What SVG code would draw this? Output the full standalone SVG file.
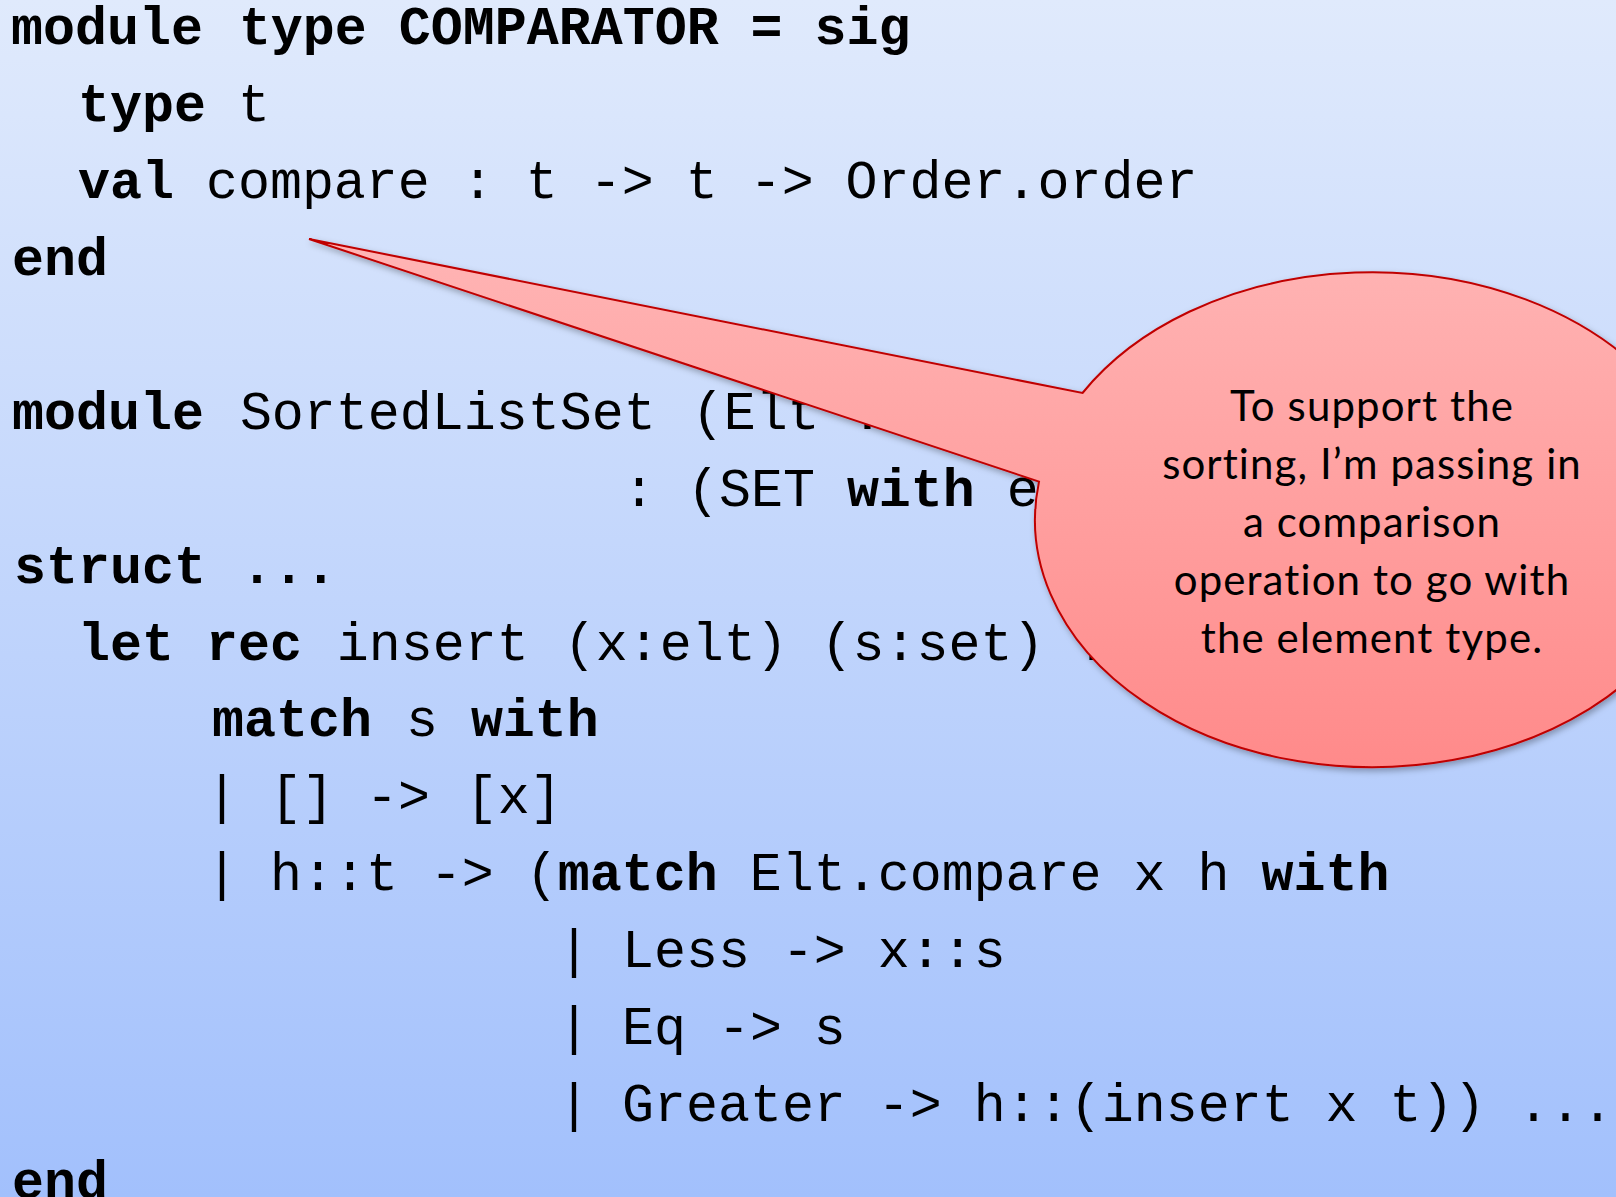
<svg xmlns="http://www.w3.org/2000/svg" width="1616" height="1197" viewBox="0 0 1616 1197">
<defs>
<linearGradient id="bg" x1="0" y1="0" x2="0" y2="1">
<stop offset="0" stop-color="#e0eafc"/>
<stop offset="1" stop-color="#a2c0fc"/>
</linearGradient>
<linearGradient id="cf" gradientUnits="userSpaceOnUse" x1="0" y1="239" x2="0" y2="768">
<stop offset="0" stop-color="#ffb5b5"/>
<stop offset="1" stop-color="#ff8a8a"/>
</linearGradient>
<filter id="sh" x="-10%" y="-10%" width="130%" height="130%">
<feDropShadow dx="2" dy="3" stdDeviation="3" flood-color="#000" flood-opacity="0.3"/>
</filter>
</defs>
<style>
.code{font-family:"Liberation Mono","Courier New",monospace;font-size:53.3px;fill:#000;white-space:pre}
.b{font-weight:bold}
.note{font-family:Lato,"Open Sans",sans-serif;font-size:42px;letter-spacing:1.1px;fill:#000;text-anchor:middle}
</style>
<rect width="1616" height="1197" fill="url(#bg)"/>
<g id="code" class="code" xml:space="preserve">
<text x="11" y="44" class="b">module<tspan dx="4"> type COMPARATOR = sig</tspan></text>
<text x="78" y="120.9"><tspan class="b">type</tspan> t</text>
<text x="78" y="197.9"><tspan class="b">val</tspan> compare : t -&gt; t -&gt; Order.order</text>
<text x="12" y="274.8" class="b">end</text>
<text x="12" y="428.7"><tspan class="b">module</tspan><tspan dx="4"> SortedListSet</tspan><tspan dx="4"> (Elt :</tspan></text>
<text x="623" y="505.7">: (SET <tspan class="b">with</tspan> e</text>
<text x="14" y="582.6" class="b">struct<tspan dx="3"> ...</tspan></text>
<text x="78" y="659.5"><tspan class="b">let rec</tspan><tspan dx="3"> insert</tspan><tspan dx="3"> (x:elt)</tspan><tspan dx="1"> (s:set) :</tspan></text>
<text x="212" y="736.4"><tspan class="b">match</tspan><tspan dx="2"> s </tspan><tspan class="b" dx="1">with</tspan></text>
<text x="206" y="813.3">| [] -&gt;<tspan dx="4"> [x]</tspan></text>
<text x="206" y="890.2">| h::t -&gt; (<tspan class="b">match</tspan> Elt.compare x h <tspan class="b">with</tspan></text>
<text x="558" y="967.2">| Less -&gt; x::s</text>
<text x="558" y="1044.1">| Eq -&gt; s</text>
<text x="558" y="1121">| Greater -&gt; h::(insert x t)) ...</text>
<text x="12" y="1197.9" class="b">end</text>
</g>
<g id="callout">
<path d="M309,239 L1082.5,393 A337,247.5 0 1 1 1039,481.6 Z" fill="url(#cf)" stroke="#c00000" stroke-width="2" filter="url(#sh)"/>
<text class="note" x="1372" y="421">To support the</text>
<text class="note" x="1372" y="479">sorting, I’m passing in</text>
<text class="note" x="1372" y="537">a comparison</text>
<text class="note" x="1372" y="595">operation to go with</text>
<text class="note" x="1372" y="653">the element type.</text>
</g>
<g id="connectors"/>
</svg>
